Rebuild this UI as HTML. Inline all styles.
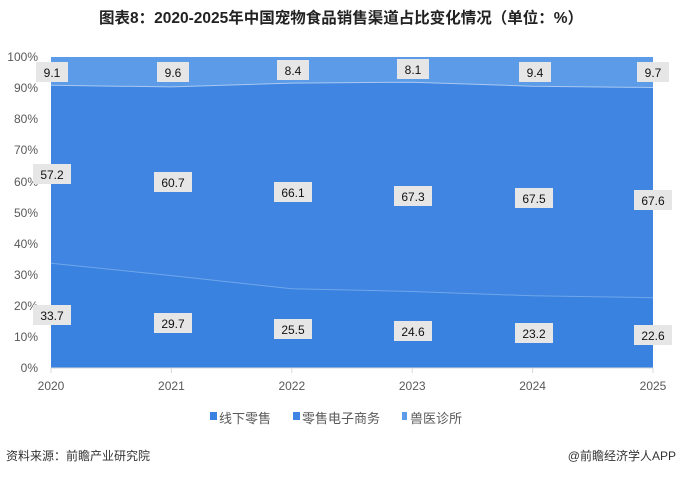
<!DOCTYPE html>
<html><head><meta charset="utf-8"><style>
body{margin:0;background:#fff;width:680px;height:477px;overflow:hidden;font-family:"Liberation Sans","Noto Sans CJK SC",sans-serif}
</style></head><body>
<svg width="680" height="477" xmlns="http://www.w3.org/2000/svg" font-family="Liberation Sans, Noto Sans CJK SC, sans-serif">
<text x="341" y="23" text-anchor="middle" font-size="15.5" font-weight="bold" fill="#222">图表8：2020-2025年中国宠物食品销售渠道占比变化情况（单位：%）</text>
<g font-size="12" fill="#595959" text-anchor="end">
<text x="38" y="61">100%</text><text x="38" y="92">90%</text><text x="38" y="123">80%</text><text x="38" y="154">70%</text><text x="38" y="186">60%</text><text x="38" y="217">50%</text><text x="38" y="248">40%</text><text x="38" y="279">30%</text><text x="38" y="310">20%</text><text x="38" y="341">10%</text><text x="38" y="372">0%</text>
</g>
<polygon points="51,57 653,57 653,87.5 532.6,86.2 412.2,82.2 291.8,83.1 171.4,86.9 51,85.3" fill="#5b9be7"/>
<polygon points="51,85.3 171.4,86.9 291.8,83.1 412.2,82.2 532.6,86.2 653,87.5 653,297.7 532.6,295.8 412.2,291.5 291.8,288.7 171.4,275.6 51,263.2" fill="#3f85e1"/>
<polygon points="51,263.2 171.4,275.6 291.8,288.7 412.2,291.5 532.6,295.8 653,297.7 653,368 51,368" fill="#3a82e0"/>
<polyline points="51,85.3 171.4,86.9 291.8,83.1 412.2,82.2 532.6,86.2 653,87.5" fill="none" stroke="#a9c9f2" stroke-width="1"/>
<polyline points="51,263.2 171.4,275.6 291.8,288.7 412.2,291.5 532.6,295.8 653,297.7" fill="none" stroke="#6fa6ea" stroke-width="1"/>
<line x1="51" y1="368" x2="653" y2="368" stroke="#d9d9d9"/>
<g stroke="#d9d9d9"><line x1="51" y1="368" x2="51" y2="373"/><line x1="171.4" y1="368" x2="171.4" y2="373"/><line x1="291.8" y1="368" x2="291.8" y2="373"/><line x1="412.2" y1="368" x2="412.2" y2="373"/><line x1="532.6" y1="368" x2="532.6" y2="373"/><line x1="653" y1="368" x2="653" y2="373"/></g>
<g font-size="12" fill="#595959" text-anchor="middle">
<text x="51" y="390">2020</text><text x="171.4" y="390">2021</text><text x="291.8" y="390">2022</text><text x="412.2" y="390">2023</text><text x="532.6" y="390">2024</text><text x="653" y="390">2025</text>
</g>
<g font-size="12" fill="#111" text-anchor="middle">
<g fill="#e6e6e6">
<rect x="36" y="62" width="32" height="20"/><rect x="157" y="62" width="32" height="20"/><rect x="277" y="60" width="32" height="20"/><rect x="397" y="59" width="32" height="20"/><rect x="519" y="62" width="32" height="20"/><rect x="637" y="62" width="32" height="20"/>
<rect x="33" y="164" width="38" height="20"/><rect x="154" y="172" width="38" height="20"/><rect x="274" y="182" width="38" height="20"/><rect x="394" y="186" width="38" height="20"/><rect x="515" y="188" width="38" height="20"/><rect x="634" y="190" width="38" height="20"/>
<rect x="33" y="305" width="38" height="20"/><rect x="154" y="313" width="38" height="20"/><rect x="274" y="319" width="38" height="20"/><rect x="394" y="321" width="38" height="20"/><rect x="515" y="323" width="38" height="20"/><rect x="634" y="325" width="38" height="20"/>
</g>
<text x="52" y="77">9.1</text><text x="173" y="77">9.6</text><text x="293" y="75">8.4</text><text x="413" y="74">8.1</text><text x="535" y="77">9.4</text><text x="653" y="77">9.7</text>
<text x="52" y="179">57.2</text><text x="173" y="187">60.7</text><text x="293" y="197">66.1</text><text x="413" y="201">67.3</text><text x="534" y="203">67.5</text><text x="653" y="205">67.6</text>
<text x="52" y="320">33.7</text><text x="173" y="328">29.7</text><text x="293" y="334">25.5</text><text x="413" y="336">24.6</text><text x="534" y="338">23.2</text><text x="653" y="340">22.6</text>
</g>
<g font-size="13" fill="#595959">
<rect x="210" y="412" width="7" height="8" fill="#3a82e0"/><text x="219" y="423">线下零售</text>
<rect x="293" y="412" width="7" height="8" fill="#3f85e1"/><text x="302" y="423">零售电子商务</text>
<rect x="402" y="412" width="5" height="8" fill="#5b9be7"/><text x="410" y="423">兽医诊所</text>
</g>
<text x="6" y="460" font-size="12" fill="#333">资料来源：前瞻产业研究院</text>
<text x="676" y="460" font-size="12" fill="#333" text-anchor="end">@前瞻经济学人APP</text>
</svg>
</body></html>
